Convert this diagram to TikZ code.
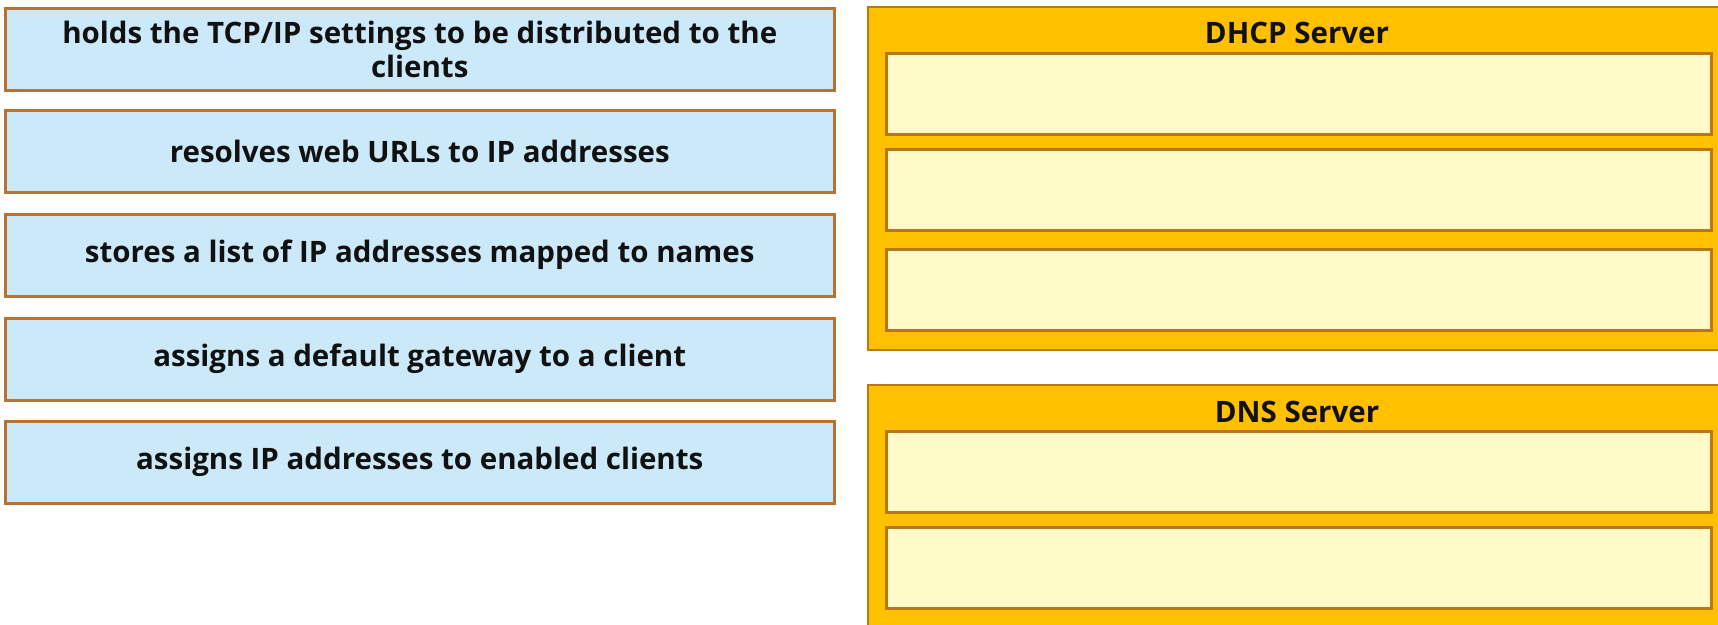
\documentclass[tikz,border=0pt]{standalone}
\usepackage{fontspec}
\setmainfont{Open Sans}
\definecolor{itemfill}{RGB}{204,233,250}
\definecolor{itemline}{RGB}{184,115,51}
\definecolor{panelfill}{RGB}{255,192,0}
\definecolor{panelline}{RGB}{186,118,24}
\definecolor{slotfill}{RGB}{255,250,200}
\definecolor{inktext}{RGB}{17,17,17}
\tikzset{
  itembox/.style={draw=itemline, fill=itemfill, line width=2.5pt, anchor=north west,
    minimum width=829pt, minimum height=82pt, inner sep=0pt, align=center,
    font=\fontsize{29.5}{34}\selectfont\bfseries, text=inktext},
  panelbox/.style={draw=panelline, fill=panelfill, line width=2.5pt},
  slotbox/.style={draw=panelline, fill=slotfill, line width=2.5pt, anchor=north west,
    minimum width=825pt, minimum height=81pt, inner sep=0pt},
  paneltitle/.style={font=\fontsize{29.5}{34}\selectfont\bfseries, text=inktext, inner sep=0pt}
}
\begin{document}
\begin{tikzpicture}[x=1pt,y=-1pt]
  \clip (0,0) rectangle (1718,624);
  \fill[white] (0,0) rectangle (1718,624);

  % answer items
  \node[itembox] (i1) at (4,7)   {holds the TCP/IP settings to be distributed to the\\clients};
  \node[itembox] (i2) at (4,109) {resolves web URLs to IP addresses};
  \node[itembox] (i3) at (4,213) {stores a list of IP addresses mapped to names};
  \node[itembox] (i4) at (4,317) {assigns a default gateway to a client};
  \node[itembox] (i5) at (4,420) {assigns IP addresses to enabled clients};

  % DHCP server panel
  \draw[panelbox] (868,7) rectangle (1740,350);
  \node[paneltitle] (dhcp) at (1297,33) {DHCP Server};
  \node[slotbox] (h1) at (885,52)  {};
  \node[slotbox] (h2) at (885,148) {};
  \node[slotbox] (h3) at (885,248) {};

  % DNS server panel
  \draw[panelbox] (868,385) rectangle (1740,660);
  \node[paneltitle] (dns) at (1297,412) {DNS Server};
  \node[slotbox] (n1) at (885,430) {};
  \node[slotbox] (n2) at (885,526) {};
\end{tikzpicture}
\end{document}
